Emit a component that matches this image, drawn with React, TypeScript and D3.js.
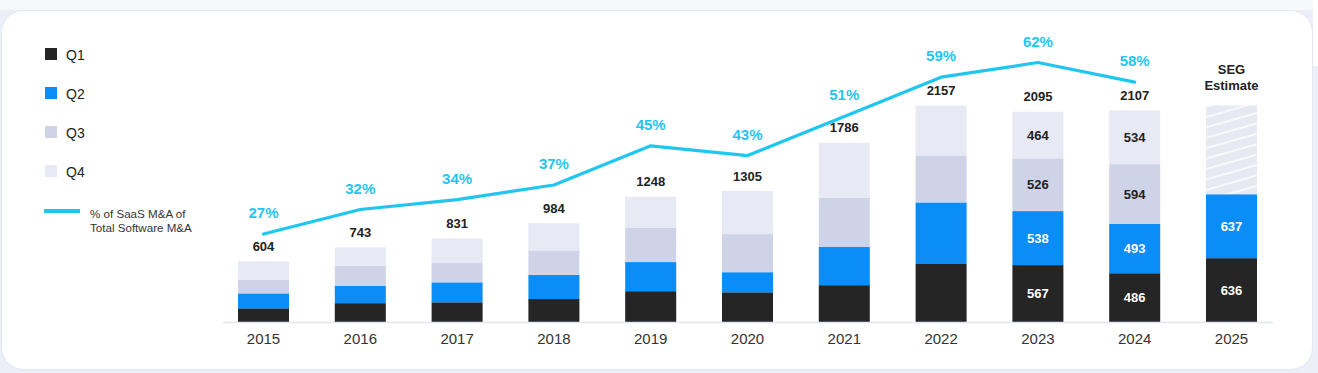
import React from "react";
import * as d3 from "d3";

const years = ["2015", "2016", "2017", "2018", "2019", "2020", "2021", "2022", "2023", "2024", "2025"];
const q1 = [136, 188, 196, 229, 307, 296, 367, 584, 567, 486, 636];
const q2 = [149, 171, 199, 242, 290, 200, 380, 607, 538, 493, 637];
const q3 = [139, 201, 198, 242, 341, 380, 489, 468, 526, 594, 0];
const q4 = [180, 183, 238, 271, 310, 429, 550, 498, 464, 534, 0];
const estimateRest = [0, 0, 0, 0, 0, 0, 0, 0, 0, 0, 884];
const totals = [604, 743, 831, 984, 1248, 1305, 1786, 2157, 2095, 2107, null];
const saasShare = [27, 32, 34, 37, 45, 43, 51, 59, 62, 58];
const segmentLabelYears = ["2023", "2024", "2025"];
const seriesNames = ["Q1", "Q2", "Q3", "Q4"];

const W = 1318;
const H = 373;
const COLORS = ["#252525", "#0a8df6", "#cfd3e8", "#e7e9f5"];
const TEXT_COLORS = ["#ffffff", "#ffffff", "#222222", "#222222"];
const CYAN = "#1fc6f0";
const FONT = "'Liberation Sans', Arial, Helvetica, sans-serif";

export default function App() {
  const x = d3.scaleBand<string>().domain(years).range([215.1, 1279.9]).paddingInner(0.473).paddingOuter(0.2365);
  const y = d3.scaleLinear().domain([0, 2157]).range([322, 105.5]);
  const yPct = d3.scaleLinear().domain([27, 62]).range([234, 62.5]);

  const rows = years.map((yr, i) => ({ year: yr, Q1: q1[i], Q2: q2[i], Q3: q3[i], Q4: q4[i], EST: estimateRest[i] }));
  const stack = d3.stack<any>().keys(["Q1", "Q2", "Q3", "Q4", "EST"])(rows);

  const line = d3
    .line<number>()
    .x((_, i) => (x(years[i]) as number) + x.bandwidth() / 2)
    .y((d) => yPct(d));

  const bw = x.bandwidth();
  const cx = (yr: string) => (x(yr) as number) + bw / 2;

  return (
    <div style={{ position: "absolute", left: 0, top: 0, width: W, height: H }}>
      <svg width={W} height={H} style={{ display: "block", fontFamily: FONT }}>
        <defs>
          <pattern id="hatch" patternUnits="userSpaceOnUse" width="40" height="10" patternTransform="rotate(-16)">
            <rect width="40" height="10" fill="#e6e9f2" />
            <line x1="0" y1="5" x2="40" y2="5" stroke="#ffffff" strokeWidth="1.6" />
          </pattern>
        </defs>
        <rect x={0} y={0} width={W} height={H} fill="#eceef8" />
        <rect x={0} y={0} width={W} height={10} fill="#f7f8fc" />
        <rect x={1313} y={0} width={5} height={66} fill="#ffffff" />
        <rect x={1.5} y={10.5} width={1311} height={359} rx={22} ry={22} fill="#ffffff" stroke="#e4e7f1" strokeWidth={1} />

        {/* legend */}
        {seriesNames.map((n, i) => (
          <g key={n} transform={`translate(45, ${48 + i * 39})`}>
            <rect width={12} height={12} fill={COLORS[i]} />
            <text x={21} y={11.5} fontSize={14} fill="#222">{n}</text>
          </g>
        ))}
        <line x1={44} x2={80} y1={211} y2={211} stroke={CYAN} strokeWidth={4} />
        <text x={90} y={218} fontSize={11.6} fill="#333">% of SaaS M&amp;A of</text>
        <text x={90} y={232} fontSize={11.6} fill="#333">Total Software M&amp;A</text>

        {/* bars */}
        {stack.map((layer, li) => (
          <g key={layer.key}>
            {layer.map((d, i) => {
              const h = y(d[0]) - y(d[1]);
              if (h <= 0) return null;
              const fill = layer.key === "EST" ? "url(#hatch)" : COLORS[li];
              return <rect key={i} x={x(years[i])} y={y(d[1])} width={bw} height={h} fill={fill} />;
            })}
          </g>
        ))}

        {/* segment labels */}
        {stack.slice(0, 4).map((layer, li) =>
          layer.map((d, i) => {
            const yr = years[i];
            if (!segmentLabelYears.includes(yr)) return null;
            const v = d[1] - d[0];
            if (v <= 0) return null;
            const my = (y(d[0]) + y(d[1])) / 2;
            return (
              <text key={`${li}-${i}`} x={cx(yr)} y={my + 4.7} textAnchor="middle" fontSize={13} fontWeight="bold" fill={TEXT_COLORS[li]}>
                {v}
              </text>
            );
          })
        )}

        {/* totals */}
        {totals.map((t, i) =>
          t == null ? null : (
            <text key={i} x={cx(years[i])} y={y(t) - 10.5} textAnchor="middle" fontSize={13} fontWeight="bold" fill="#222">
              {t}
            </text>
          )
        )}
        <text x={cx("2025")} y={74} textAnchor="middle" fontSize={13} fontWeight="bold" fill="#222">SEG</text>
        <text x={cx("2025")} y={90} textAnchor="middle" fontSize={13} fontWeight="bold" fill="#222">Estimate</text>

        {/* baseline */}
        <line x1={223} x2={1273} y1={322.5} y2={322.5} stroke="#e3e6f0" strokeWidth={1.5} />

        {/* year labels */}
        {years.map((yr) => (
          <text key={yr} x={cx(yr)} y={344} textAnchor="middle" fontSize={15} fill="#333">{yr}</text>
        ))}

        {/* line */}
        <path d={line(saasShare) as string} fill="none" stroke={CYAN} strokeWidth={3.2} strokeLinejoin="round" strokeLinecap="round" />
        {saasShare.map((p, i) => (
          <text key={i} x={cx(years[i])} y={yPct(p) - 16} textAnchor="middle" fontSize={15} fontWeight="bold" fill={CYAN}>
            {p}%
          </text>
        ))}
      </svg>
    </div>
  );
}
